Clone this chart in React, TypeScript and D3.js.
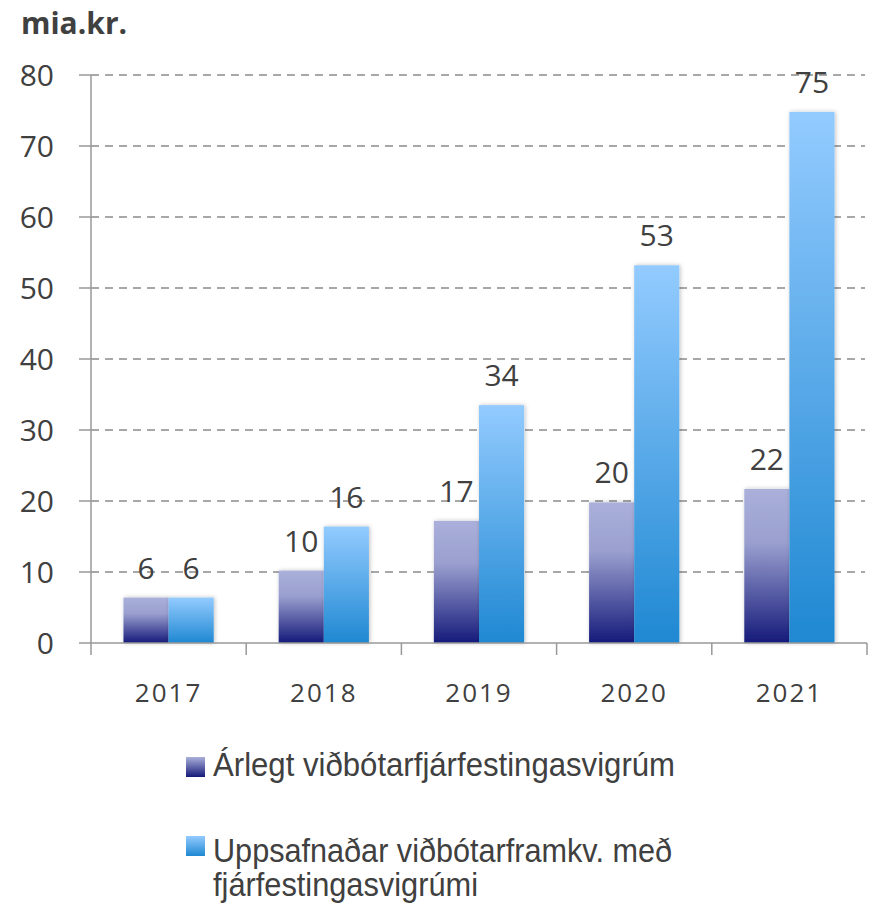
import React from 'react';
import * as d3 from 'd3';

// values, in billions ISK
const years = ['2017', '2018', '2019', '2020', '2021'];
const annual = [6.4, 10.2, 17.2, 19.8, 21.7];
const cumulative = [6.4, 16.4, 33.5, 53.2, 74.8];
const yTicks = [0, 10, 20, 30, 40, 50, 60, 70, 80];
const seriesNames = [
  'Árlegt viðbótarfjárfestingasvigrúm',
  'Uppsafnaðar viðbótarframkv. með',
  'fjárfestingasvigrúmi',
];

const W = 873;
const H = 910;
const left = 91;
const right = 867;
const top = 75;
const bottom = 643;
const font = "'Open Sans', 'Liberation Sans', sans-serif";
const legendFont = "'Liberation Sans', Arial, sans-serif";
const textColor = '#404040';

export default function App() {
  const x = d3.scaleBand().domain(years).range([left, right]).paddingInner(0).paddingOuter(0);
  const y = d3.scaleLinear().domain([0, 80]).range([bottom, top]);
  const inner = d3
    .scaleBand()
    .domain(['a', 'b'])
    .range([0, x.bandwidth()])
    .paddingInner(0)
    .paddingOuter(0.72);

  const series = [
    { key: 'a', values: annual, fill: 'url(#gradA)' },
    { key: 'b', values: cumulative, fill: 'url(#gradB)' },
  ];

  return (
    <svg width={W} height={H} style={{ position: 'absolute', left: 0, top: 0, background: '#fff' }}>
      <defs>
        <linearGradient id="gradA" x1="0" y1="0" x2="0" y2="1">
          <stop offset="0" stopColor="#aab0da" />
          <stop offset="0.35" stopColor="#9a9fcf" />
          <stop offset="1" stopColor="#151a7a" />
        </linearGradient>
        <linearGradient id="gradB" x1="0" y1="0" x2="0" y2="1">
          <stop offset="0" stopColor="#93cbff" />
          <stop offset="1" stopColor="#1f88d2" />
        </linearGradient>
        <linearGradient id="legA" x1="0" y1="0" x2="0" y2="1">
          <stop offset="0" stopColor="#aab0da" />
          <stop offset="1" stopColor="#151a7a" />
        </linearGradient>
        <linearGradient id="legB" x1="0" y1="0" x2="0" y2="1">
          <stop offset="0" stopColor="#93cbff" />
          <stop offset="1" stopColor="#1f88d2" />
        </linearGradient>
        <filter id="shadow" x="-20%" y="-10%" width="140%" height="120%">
          <feDropShadow dx="1" dy="0" stdDeviation="2" floodColor="#000" floodOpacity="0.25" />
        </filter>
      </defs>

      <text x={21} y={34} fontFamily={font} fontWeight={700} fontSize={30} fill={textColor}>
        mia.kr.
      </text>

      {/* gridlines + y ticks */}
      {yTicks.map((t) => (
        <g key={t}>
          {t > 0 && (
            <line x1={left} x2={right - 2} y1={y(t)} y2={y(t)} stroke="#8a8a8a" strokeWidth={1.5} strokeDasharray="8,6" />
          )}
          <line x1={79} x2={left} y1={y(t)} y2={y(t)} stroke="#999" strokeWidth={1.5} />
          <text x={54} y={y(t)} dy="0.36em" textAnchor="end" fontFamily={font} fontSize={30} fill={textColor}>
            {t}
          </text>
        </g>
      ))}

      {/* bars */}
      {series.map((s) =>
        years.map((yr, i) => (
          <rect
            key={s.key + yr}
            x={x(yr)! + inner(s.key)!}
            y={y(s.values[i])}
            width={inner.bandwidth()}
            height={y(0) - y(s.values[i])}
            fill={s.fill}
            filter="url(#shadow)"
          />
        ))
      )}

      {/* data labels */}
      {series.map((s) =>
        years.map((yr, i) => (
          <text
            key={'l' + s.key + yr}
            x={x(yr)! + inner(s.key)! + inner.bandwidth() / 2}
            y={y(s.values[i]) - 19}
            textAnchor="middle"
            fontFamily={font}
            fontSize={30}
            fill={textColor}
          >
            {Math.round(s.values[i])}
          </text>
        ))
      )}

      {/* axes */}
      <line x1={left} x2={left} y1={top} y2={655} stroke="#999" strokeWidth={1.5} />
      <line x1={left} x2={right} y1={bottom} y2={bottom} stroke="#999" strokeWidth={1.5} />
      {years.map((yr) => (
        <line key={'t' + yr} x1={x(yr)! + x.bandwidth()} x2={x(yr)! + x.bandwidth()} y1={bottom} y2={655} stroke="#999" strokeWidth={1.5} />
      ))}
      {years.map((yr) => (
        <text
          key={'x' + yr}
          x={x(yr)! + x.bandwidth() / 2}
          y={702}
          textAnchor="middle"
          fontFamily={font}
          fontSize={26}
          letterSpacing={2}
          fill={textColor}
        >
          {yr}
        </text>
      ))}

      {/* legend */}
      <rect x={186} y={757} width={19} height={20} fill="url(#legA)" />
      <text x={213} y={776} fontFamily={legendFont} fontSize={33} textLength={462} lengthAdjust="spacingAndGlyphs" fill={textColor}>
        {seriesNames[0]}
      </text>
      <rect x={186} y={836} width={19} height={20} fill="url(#legB)" />
      <text x={213} y={862} fontFamily={legendFont} fontSize={33} textLength={459} lengthAdjust="spacingAndGlyphs" fill={textColor}>
        {seriesNames[1]}
      </text>
      <text x={213} y={896} fontFamily={legendFont} fontSize={33} textLength={265} lengthAdjust="spacingAndGlyphs" fill={textColor}>
        {seriesNames[2]}
      </text>
    </svg>
  );
}
